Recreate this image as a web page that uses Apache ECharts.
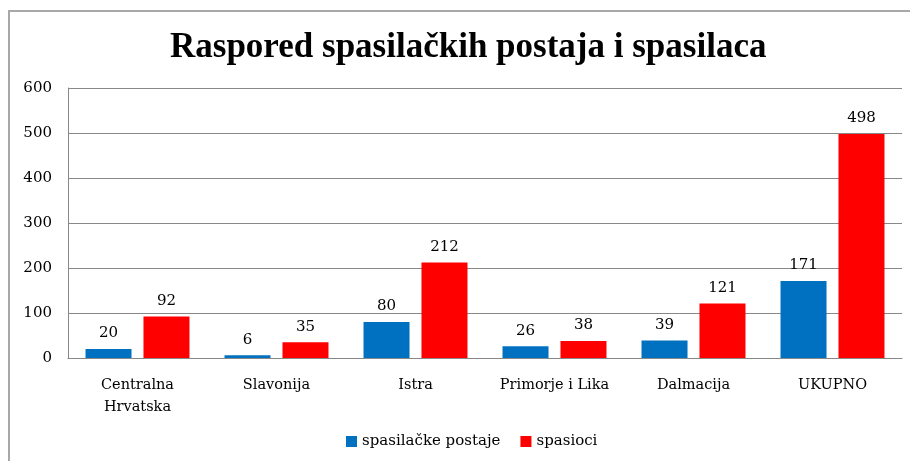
<!DOCTYPE html>
<html>
<head>
<meta charset="utf-8">
<script src="https://cdn.jsdelivr.net/npm/echarts@6/dist/echarts.min.js"></script>
<style>
  html, body { margin: 0; padding: 0; background: #fff; }
  #frame { position: absolute; left: 8px; top: 10px; width: 920px; height: 460px; border: 2px solid #a8a8a8; box-sizing: border-box; }
  #chart { position: absolute; left: 0; top: 0; width: 910px; height: 461px; }
</style>
</head>
<body>
<div id="frame"></div>
<div id="chart"></div>
<script>
// podaci s grafikona
var regije = ['Centralna\nHrvatska', 'Slavonija', 'Istra', 'Primorje i Lika', 'Dalmacija', 'UKUPNO'];
var postaje = [20, 6, 80, 26, 39, 171];
var spasioci = [92, 35, 212, 38, 121, 498];
var yTicks = [0, 100, 200, 300, 400, 500, 600];

var serif = '"DejaVu Serif", "Liberation Serif", serif';
var chart = echarts.init(document.getElementById('chart'));

var option = {
    animation: false,
    title: {
        text: 'Raspored spasilačkih postaja i spasilaca',
        left: 165,
        top: 25,
        textStyle: { fontFamily: '"Liberation Serif", serif', fontWeight: 'bold', fontSize: 35, color: '#000' }
    },
    legend: {
        bottom: 7,
        left: 341,
        itemWidth: 11,
        itemHeight: 11,
        itemGap: 20,
        icon: 'rect',
        textStyle: { fontFamily: serif, fontSize: 15, color: '#000' },
        data: ['spasilačke postaje', 'spasioci']
    },
    grid: { left: 68, right: 8, top: 88, bottom: 103 },
    xAxis: {
        type: 'category',
        data: regije,
        axisLine: { lineStyle: { color: '#888', width: 1 } },
        axisTick: { show: false },
        axisLabel: { interval: 0, fontFamily: serif, fontSize: 14.5, color: '#000', margin: 16, lineHeight: 22 }
    },
    yAxis: {
        type: 'value',
        min: yTicks[0],
        max: yTicks[yTicks.length - 1],
        interval: 100,
        axisLine: { show: true, lineStyle: { color: '#888', width: 1 } },
        axisTick: { show: false },
        splitLine: { lineStyle: { color: '#888', width: 1 } },
        axisLabel: { fontFamily: serif, fontSize: 15, color: '#000', margin: 16 }
    },
    series: [
        {
            name: 'spasilačke postaje',
            type: 'bar',
            data: postaje,
            barWidth: 46,
            barGap: '26%',
            itemStyle: { color: '#0070C0' },
            label: { show: true, position: 'top', distance: 8, fontFamily: serif, fontSize: 15, color: '#000' }
        },
        {
            name: 'spasioci',
            type: 'bar',
            data: spasioci,
            barWidth: 46,
            itemStyle: { color: '#FF0000' },
            label: { show: true, position: 'top', distance: 8, fontFamily: serif, fontSize: 15, color: '#000' }
        }
    ]
};
chart.setOption(option);
</script>
</body>
</html>
